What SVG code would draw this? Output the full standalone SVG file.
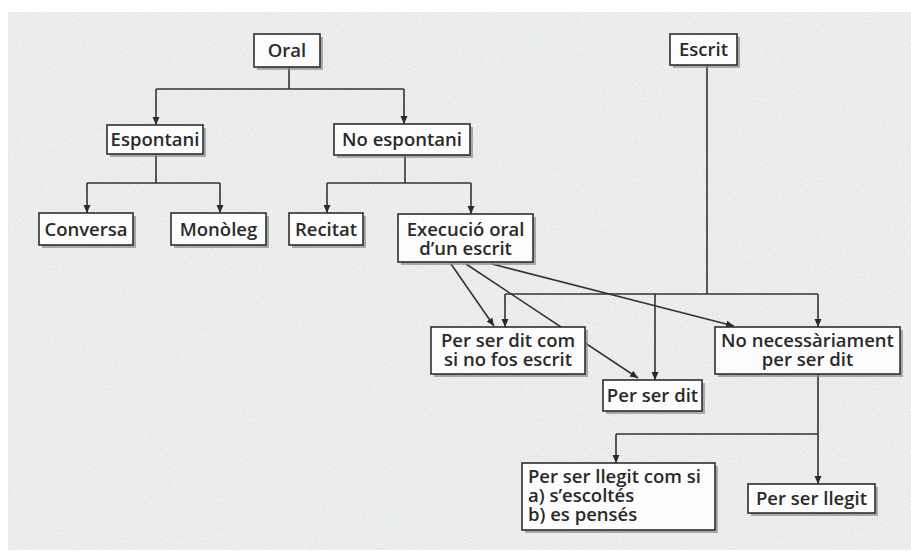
<svg xmlns="http://www.w3.org/2000/svg" width="911" height="554" viewBox="0 0 911 554">
  <defs>
    <style>
      .bx { fill: #fcfcfc; stroke: #2e2e2e; stroke-width: 1.6; }
      .sh { fill: #8a8a8a; opacity: 0.7; }
      .tx { font-family: "Open Sans", "Noto Sans", "DejaVu Sans", sans-serif; font-weight: 600; font-size: 18.5px; fill: #2a2a2a; }
      .c { text-anchor: middle; }
      .ln { fill: none; stroke: #333; stroke-width: 1.6; }
      .ar { marker-end: url(#head); }
    </style>
    <marker id="head" markerUnits="userSpaceOnUse" markerWidth="9" markerHeight="8" refX="8" refY="3.5" orient="auto">
      <path d="M0,0 L8,3.5 L0,7 Z" fill="#2a2a2a"/>
    </marker>
    <filter id="grain" x="0" y="0" width="100%" height="100%">
      <feTurbulence type="fractalNoise" baseFrequency="0.85" numOctaves="2" seed="7"/>
      <feColorMatrix type="matrix" values="0 0 0 0 0.55  0 0 0 0 0.57  0 0 0 0 0.58  1.1 0 0 0 -0.45"/>
    </filter>
  </defs>

  <!-- page -->
  <rect x="0" y="0" width="911" height="554" fill="#ffffff"/>
  <rect x="8" y="12" width="903" height="538" fill="#eef0f0"/>
  <rect x="8" y="12" width="903" height="538" filter="url(#grain)" opacity="0.7"/>

  <!-- connectors -->
  <g id="connectors">
    <!-- Oral -->
    <path class="ln" d="M289,67 V89 M156,89 H404"/>
    <path class="ln ar" d="M156,89 V125"/>
    <path class="ln ar" d="M404,89 V124"/>
    <!-- Espontani -->
    <path class="ln" d="M156,154 V183 M87,183 H220"/>
    <path class="ln ar" d="M87,183 V213"/>
    <path class="ln ar" d="M220,183 V213"/>
    <!-- No espontani -->
    <path class="ln" d="M405,155 V183 M327,183 H471"/>
    <path class="ln ar" d="M327,183 V213"/>
    <path class="ln ar" d="M471,183 V214"/>
    <!-- Escrit -->
    <path class="ln" d="M707,65 V294 M505,294 H818"/>
    <path class="ln ar" d="M505,294 V327"/>
    <path class="ln ar" d="M655,294 V380"/>
    <path class="ln ar" d="M818,294 V327"/>
    <!-- Execució oral d'un escrit -->
    <path class="ln ar" d="M451,264 L494,326"/>
    <path class="ln ar" d="M466,264 L638,378"/>
    <path class="ln ar" d="M492,264 L734,326"/>
    <!-- No necessàriament per ser dit -->
    <path class="ln" d="M818,374 V434 M616,434 H818"/>
    <path class="ln ar" d="M616,434 V463"/>
    <path class="ln ar" d="M818,434 V484"/>
  </g>

  <g id="oral">
    <rect class="sh" x="257" y="37" width="66" height="33"/>
    <rect class="bx" x="254" y="34" width="66" height="33"/>
    <text class="tx c" x="287" y="57">Oral</text>
  </g>
  <g id="escrit">
    <rect class="sh" x="673" y="37" width="67" height="31"/>
    <rect class="bx" x="670" y="34" width="67" height="31"/>
    <text class="tx c" x="703.5" y="56">Escrit</text>
  </g>
  <g id="espontani">
    <rect class="sh" x="110" y="128" width="96" height="29"/>
    <rect class="bx" x="107" y="125" width="96" height="29"/>
    <text class="tx c" x="155" y="146">Espontani</text>
  </g>
  <g id="no-espontani">
    <rect class="sh" x="337" y="127" width="136" height="31"/>
    <rect class="bx" x="334" y="124" width="136" height="31"/>
    <text class="tx c" x="402" y="146">No espontani</text>
  </g>
  <g id="conversa">
    <rect class="sh" x="42" y="216" width="94" height="32"/>
    <rect class="bx" x="39" y="213" width="94" height="32"/>
    <text class="tx c" x="86" y="236">Conversa</text>
  </g>
  <g id="monoleg">
    <rect class="sh" x="174" y="216" width="95" height="32"/>
    <rect class="bx" x="171" y="213" width="95" height="32"/>
    <text class="tx c" x="218.5" y="236">Monòleg</text>
  </g>
  <g id="recitat">
    <rect class="sh" x="292" y="216" width="74" height="32"/>
    <rect class="bx" x="289" y="213" width="74" height="32"/>
    <text class="tx c" x="326" y="236">Recitat</text>
  </g>
  <g id="execucio">
    <rect class="sh" x="401" y="217" width="135" height="48"/>
    <rect class="bx" x="398" y="214" width="135" height="48"/>
    <text class="tx c" x="465.5" y="236">Execució oral</text>
    <text class="tx c" x="465.5" y="255">d’un escrit</text>
  </g>
  <g id="dit-com-si">
    <rect class="sh" x="434" y="330" width="154" height="47"/>
    <rect class="bx" x="431" y="327" width="154" height="47"/>
    <text class="tx c" x="508" y="347">Per ser dit com</text>
    <text class="tx c" x="508" y="366">si no fos escrit</text>
  </g>
  <g id="dit">
    <rect class="sh" x="606" y="383" width="99" height="31"/>
    <rect class="bx" x="603" y="380" width="99" height="31"/>
    <text class="tx c" x="652.5" y="402">Per ser dit</text>
  </g>
  <g id="no-necessariament">
    <rect class="sh" x="718" y="330" width="185" height="47"/>
    <rect class="bx" x="715" y="327" width="185" height="47"/>
    <text class="tx c" x="807.5" y="347">No necessàriament</text>
    <text class="tx c" x="807.5" y="366">per ser dit</text>
  </g>
  <g id="llegit-com-si">
    <rect class="sh" x="525" y="466" width="193" height="67"/>
    <rect class="bx" x="522" y="463" width="193" height="67"/>
    <text class="tx" x="528" y="483">Per ser llegit com si</text>
    <text class="tx" x="528" y="502">a) s’escoltés</text>
    <text class="tx" x="528" y="521">b) es pensés</text>
  </g>
  <g id="llegit">
    <rect class="sh" x="751" y="487" width="127" height="29"/>
    <rect class="bx" x="748" y="484" width="127" height="29"/>
    <text class="tx c" x="811.5" y="505">Per ser llegit</text>
  </g>
</svg>
